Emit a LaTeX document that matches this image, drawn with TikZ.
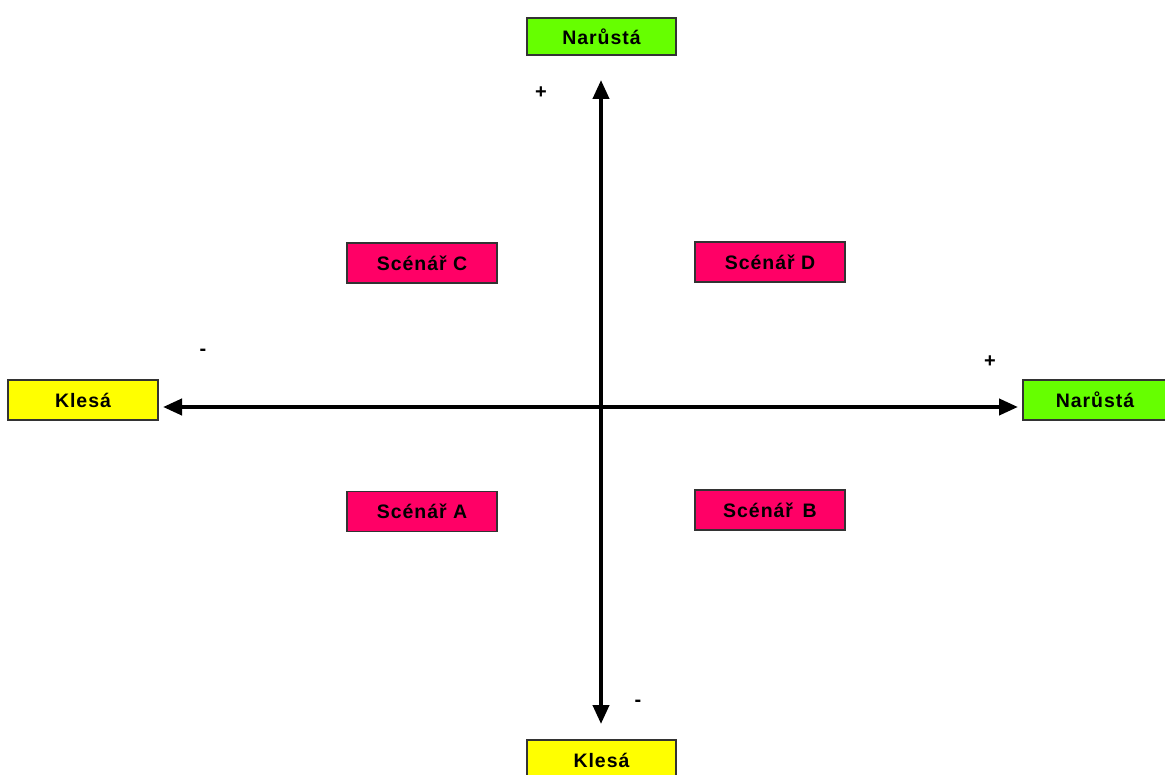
\documentclass[tikz,border=0pt]{standalone}
\usepackage{fontspec}
\setmainfont{Liberation Sans}[LetterSpace=5]
\usetikzlibrary{arrows.meta}
\definecolor{grn}{HTML}{66FF00}
\definecolor{ylw}{HTML}{FFFF00}
\definecolor{pnk}{HTML}{FF0066}
\tikzset{
  lbl/.style={draw=black!80, line width=1.2pt, inner sep=0pt, font=\fontsize{19.5}{19.5}\selectfont\bfseries, text=black},
  grnbox/.style={lbl, fill=grn},
  ylwbox/.style={lbl, fill=ylw},
  pnkbox/.style={lbl, fill=pnk},
  axis/.style={line width=4pt, -{Triangle[length=19pt,width=16pt]}},
  sign/.style={font=\fontsize{20}{20}\selectfont\bfseries, inner sep=0pt}
}
\begin{document}
\begin{tikzpicture}[x=1pt,y=-1pt]
\useasboundingbox (0,0) rectangle (1165,775);
\node[grnbox, minimum width=149pt, minimum height=37pt] (top) at (601.5,36.5) {Narůstá};
\node[ylwbox, minimum width=149pt, minimum height=40pt] (bot) at (601.5,760) {Klesá};
\node[ylwbox, minimum width=150pt, minimum height=40pt] (left) at (83,400) {Klesá};
\node[grnbox, minimum width=144pt, minimum height=40pt] (right) at (1095,400) {Narůstá};
\node[pnkbox, minimum width=150pt, minimum height=40pt] (C) at (422,263) {Scénář C};
\node[pnkbox, minimum width=150pt, minimum height=40pt] (D) at (770,262) {Scénář D};
\node[pnkbox, minimum width=150pt, minimum height=40pt] (A) at (422,511.5) {Scénář A};
\node[pnkbox, minimum width=150pt, minimum height=40pt] (B) at (770,510) {Scénář\, B};
\coordinate (O) at (601,407);
\coordinate (up) at (601,80);
\coordinate (down) at (601,724);
\coordinate (lt) at (163,407);
\coordinate (rt) at (1018,407);
\draw[axis] (O) -- (up);
\draw[axis] (O) -- (down);
\draw[axis] (O) -- (lt);
\draw[axis] (O) -- (rt);
\node[sign] (p1) at (541,93) {+};
\node[sign] (m1) at (203,352) {-};
\node[sign] (p2) at (990,362) {+};
\node[sign] (m2) at (638,703) {-};
\end{tikzpicture}
\end{document}
